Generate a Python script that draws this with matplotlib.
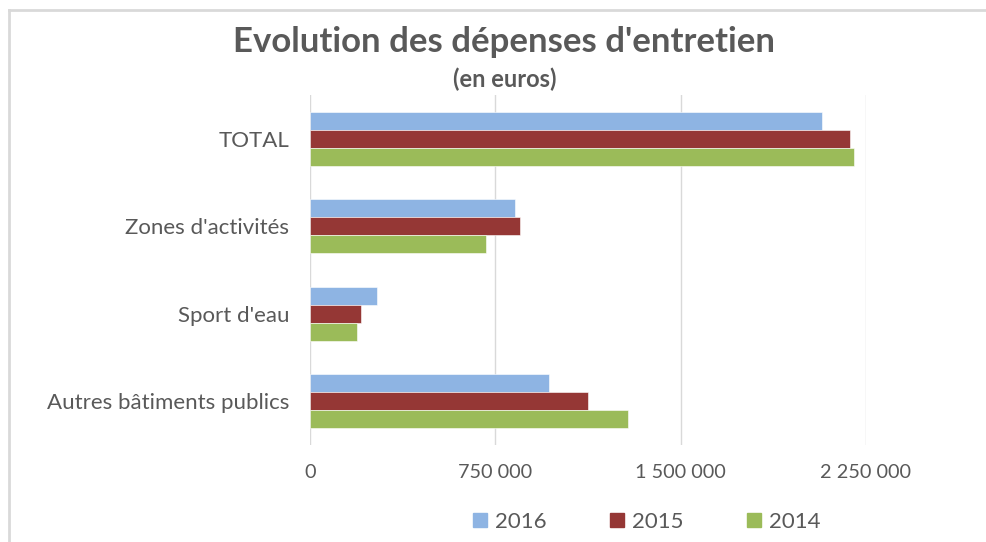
import matplotlib
matplotlib.use("Agg")
import matplotlib.pyplot as plt
from matplotlib.lines import Line2D
from matplotlib.ticker import FuncFormatter
import numpy as np

plt.rcParams['font.family'] = ['Lato', 'DejaVu Sans']

categories = ["TOTAL", "Zones d'activités", "Sport d'eau", "Autres bâtiments publics"]
years = ["2016", "2015", "2014"]
values_2016 = [2070000, 830000, 271000, 966000]
values_2015 = [2185000, 850000, 207000, 1123000]
values_2014 = [2200000, 712000, 192000, 1288000]
xticks = [0, 750000, 1500000, 2250000]
colors = ["#8EB4E3", "#953735", "#9BBB59"]

series = [values_2016, values_2015, values_2014]

fig = plt.figure(figsize=(9.87, 5.42), dpi=100)
W, H = 987, 542
ax = fig.add_axes([310 / W, 1 - 445 / H, (866 - 310) / W, (445 - 95) / H])

n = len(categories)
pos = np.arange(n)
bh = 0.205
for i, (vals, c) in enumerate(zip(series, colors)):
    offs = (i - 1) * bh
    ax.barh(pos + offs, vals, height=bh, color=c, label=years[i], edgecolor='white', linewidth=0.4, zorder=3)

ax.set_ylim(n - 0.5, -0.5)
ax.set_xlim(0, 2250000)
ax.set_yticks(pos)
ax.set_yticklabels(categories)
ax.set_xticks(xticks)
ax.xaxis.set_major_formatter(FuncFormatter(lambda v, p: f"{int(v):,}".replace(",", " ")))
ax.grid(axis='x', color='#D9D9D9', linewidth=1, zorder=0)
for s in ax.spines.values():
    s.set_visible(False)
ax.tick_params(axis='y', length=0, labelsize=16, colors='#595959', pad=15)
ax.tick_params(axis='x', length=0, labelsize=14.3, colors='#595959', pad=14)

fig.text(504 / W, 1 - 42 / H, "Evolution des dépenses d'entretien", ha='center', va='center',
         fontsize=25, fontweight='bold', color='#595959')
fig.text(505 / W, 1 - 79 / H, "(en euros)", ha='center', va='center',
         fontsize=17, fontweight='bold', color='#595959')

handles = [Line2D([], [], marker='s', linestyle='none', markersize=10, markerfacecolor=c, markeredgecolor=c) for c in colors]
fig.legend(handles, years, loc='center', bbox_to_anchor=(647 / W, 1 - 522 / H), ncol=3, frameon=False,
           fontsize=16, labelcolor='#595959', handlelength=0.6, handletextpad=0.35, columnspacing=2.9)

# chart border
fig.add_artist(Line2D([9 / W, 1], [1 - 10 / H, 1 - 10 / H], color='#D9D9D9', linewidth=2, transform=fig.transFigure))
fig.add_artist(Line2D([9 / W, 9 / W], [0, 1 - 10 / H], color='#D9D9D9', linewidth=2, transform=fig.transFigure))

fig.savefig("out.png", dpi=100, facecolor='white')
